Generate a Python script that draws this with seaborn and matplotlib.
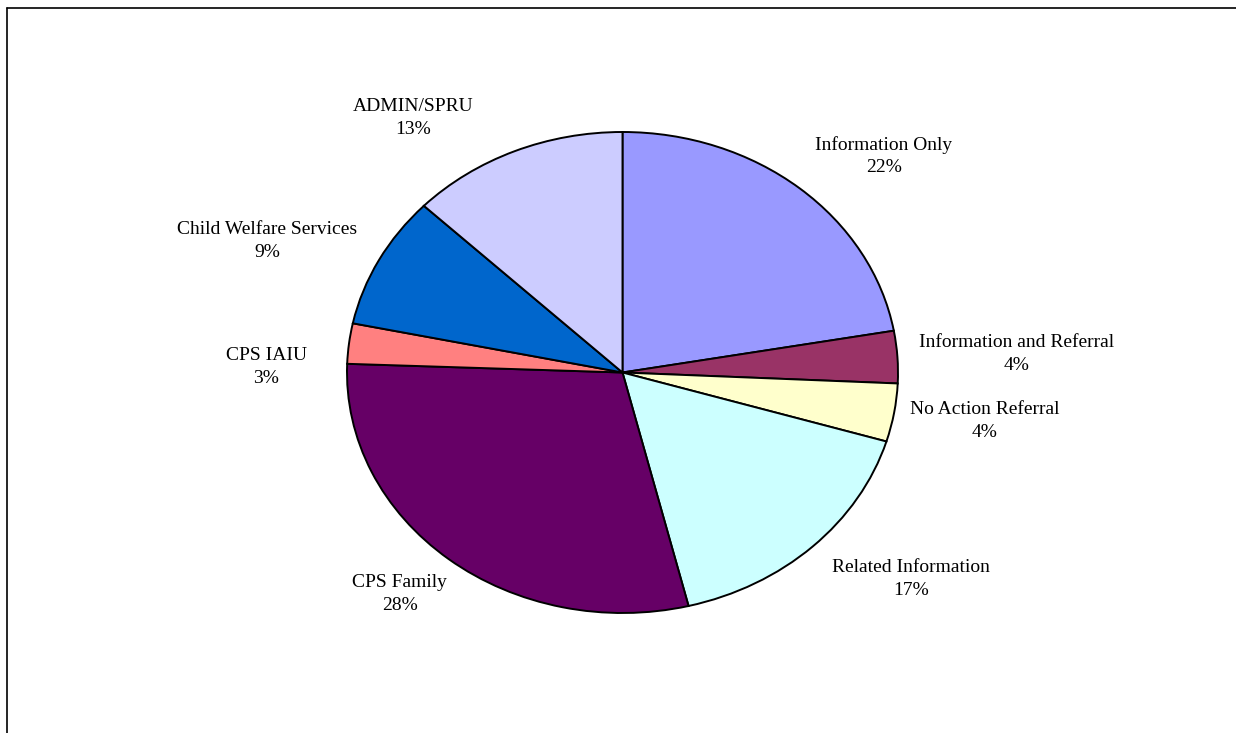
import matplotlib
matplotlib.use("Agg")
import matplotlib.pyplot as plt
import seaborn as sns

# slices, clockwise from 12 o'clock
categories = ["Information Only", "Information and Referral", "No Action Referral",
              "Related Information", "CPS Family", "CPS IAIU",
              "Child Welfare Services", "ADMIN/SPRU"]
shares = [22.2, 3.5, 3.9, 16.5, 29.4, 2.7, 8.9, 12.8]
pct_labels = ["22%", "4%", "4%", "17%", "28%", "3%", "9%", "13%"]

colors = ["#9999FF", "#993366", "#FFFFCC", "#CCFFFF",
          "#660066", "#FF8080", "#0066CC", "#CCCCFF"]
# label centres in pie radius units (x to the right, y up)
label_pos = [(0.949, 0.900), (1.432, 0.077), (1.316, -0.202), (1.047, -0.859),
             (-0.808, -0.921), (-1.294, 0.023), (-1.290, 0.548), (-0.760, 1.058)]

sns.set_theme(style="white")
plt.rcParams["font.family"] = ["Liberation Serif", "DejaVu Serif"]

W, H = 1236, 733
cx, cy, rx, ry = 622.5, 372.5, 275.5, 240.5

fig = plt.figure(figsize=(W / 100, H / 100), dpi=100)
ax = fig.add_axes([0, 0, 1, 1])
ax.pie(shares, colors=colors, startangle=90, counterclock=False,
       wedgeprops=dict(edgecolor="black", linewidth=1.4))
ax.set_aspect("auto")
ax.set_xlim(-cx / rx, (W - cx) / rx)
ax.set_ylim((cy - H) / ry, cy / ry)
ax.axis("off")

for name, pct, (lx, ly) in zip(categories, pct_labels, label_pos):
    ax.text(lx, ly, f"{name}\n{pct}", ha="center", va="center",
            fontsize=14, linespacing=1.45, color="black")

# cropped chart frame (top and left edges visible)
fig.add_artist(plt.Line2D([7 / W, 7 / W], [0, 1 - 8 / H], color="black", lw=1.2,
                          transform=fig.transFigure))
fig.add_artist(plt.Line2D([7 / W, 1], [1 - 8 / H, 1 - 8 / H], color="black", lw=1.2,
                          transform=fig.transFigure))

fig.savefig("out.png", dpi=100, facecolor="white")
